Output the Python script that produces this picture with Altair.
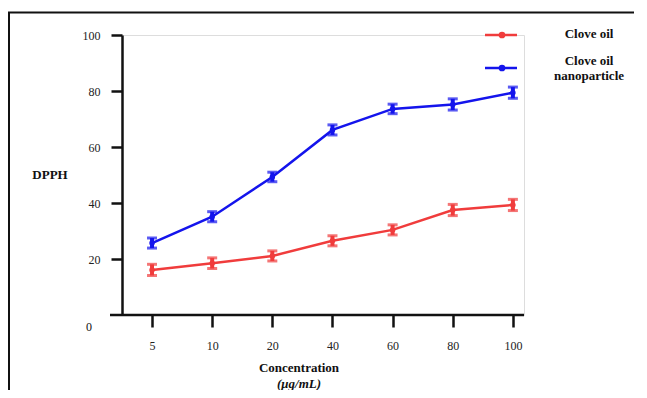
import altair as alt
import pandas as pd

# ---- data ----
concentrations = ["5", "10", "20", "40", "60", "80", "100"]
series_names = ["Clove oil", "Clove oil nanoparticle"]
clove_oil = [16.1, 18.5, 21.1, 26.5, 30.4, 37.5, 39.3]
clove_oil_err = [2.0, 1.9, 1.8, 1.8, 1.8, 2.0, 2.0]
nano = [25.7, 35.1, 49.3, 66.1, 73.6, 75.2, 79.4]
nano_err = [1.8, 1.8, 1.7, 1.8, 1.7, 2.0, 2.0]
y_ticks = [20, 40, 60, 80, 100]

RED = "#f03c3c"
BLUE = "#1414ec"
FONT = "Liberation Serif"

rows = []
for name, vals, errs in [(series_names[0], clove_oil, clove_oil_err),
                         (series_names[1], nano, nano_err)]:
    for c, v, e in zip(concentrations, vals, errs):
        rows.append({"conc": c, "series": name, "value": v,
                     "lo": v - e, "hi": v + e})
df = pd.DataFrame(rows)

W, H = 402, 280

x = alt.X("conc:O", sort=concentrations,
          scale=alt.Scale(type="point", padding=0.342, align=0.73),
          axis=alt.Axis(title=None, domain=False, ticks=True, tickSize=12,
                        tickWidth=2.5, tickColor="#111", labelAngle=0,
                        labelPadding=13, labelFont=FONT, labelFontSize=12,
                        labelColor="#222", grid=False))
yscale = alt.Scale(domain=[0, 100], nice=False, zero=True)
y = alt.Y("value:Q", scale=yscale,
          axis=alt.Axis(title=None, values=y_ticks, domain=True,
                        domainWidth=2.5, domainColor="#111", tickSize=11,
                        tickWidth=2.5, tickColor="#111", labelPadding=11,
                        labelFont=FONT, labelFontSize=12, labelColor="#222",
                        grid=False))
color = alt.Color("series:N", scale=alt.Scale(domain=series_names,
                                              range=[RED, BLUE]), legend=None)

base = alt.Chart(df)
lines = base.mark_line(strokeWidth=2.5).encode(x=x, y=y, color=color)
err = base.mark_rule(strokeWidth=4).encode(
    x=alt.X("conc:O", sort=concentrations), y=alt.Y("lo:Q", scale=yscale),
    y2="hi:Q", color=color)
cap_lo = base.mark_tick(thickness=3, size=10, orient="horizontal").encode(
    x=alt.X("conc:O", sort=concentrations), y=alt.Y("lo:Q", scale=yscale),
    color=color)
cap_hi = base.mark_tick(thickness=3, size=10, orient="horizontal").encode(
    x=alt.X("conc:O", sort=concentrations), y=alt.Y("hi:Q", scale=yscale),
    color=color)
pts = base.mark_point(filled=True, size=30, opacity=1, shape="circle").encode(
    x=alt.X("conc:O", sort=concentrations), y=alt.Y("value:Q", scale=yscale),
    color=color)

one = alt.Data(values=[{}])

def rule(x1, x2, y1, y2=None, col="#111", w=2.5):
    enc = dict(x=alt.value(x1), x2=alt.value(x2), y=alt.value(y1))
    if y2 is not None:
        enc["y2"] = alt.value(y2)
    return alt.Chart(one).mark_rule(strokeWidth=w, color=col, clip=False).encode(**enc)

def text(s, x0, y0, size=13, weight="bold", style="normal", align="center"):
    return alt.Chart(one).mark_text(font=FONT, fontSize=size, fontWeight=weight,
                                    fontStyle=style, align=align,
                                    baseline="middle", color="#111",
                                    clip=False).encode(
        x=alt.value(x0), y=alt.value(y0), text=alt.value(s))

def dot(x0, y0, col):
    return alt.Chart(one).mark_point(filled=True, size=45, opacity=1,
                                      color=col, clip=False).encode(
        x=alt.value(x0), y=alt.value(y0))

# x axis line (extends a bit left of the y axis)
x_axis_line = rule(-12, W, H)
# frame (left and top)
frame_left = rule(-113, -113, -22.5, 370, w=2)
frame_top = rule(-114, 520, -22.5, w=2)

annotations = [
    text("0", -33, 292, size=12, weight="normal"),
    text("DPPH", -72, 140),
    text("Concentration", 177, 333),
    text("(\u03bcg/mL)", 177, 349, style="italic"),
    # legend
    rule(363, 395, 0, col=RED, w=2.5), dot(380, 0, RED),
    rule(363, 395, 33, col=BLUE, w=2.5), dot(380, 33, BLUE),
    text("Clove oil", 467, -1),
    text("Clove oil", 467, 26),
    text("nanoparticle", 467, 41),
]

chart = alt.layer(lines, err, cap_lo, cap_hi, pts, x_axis_line, frame_left,
                  frame_top, *annotations).properties(
    width=W, height=H,
    autosize=alt.AutoSizeParams(type="none"),
    padding={"left": 114, "top": 27, "right": 110, "bottom": 75},
).configure_view(strokeWidth=0).configure(background="white").configure_axis(
    labelFont=FONT, labelFontSize=12, labelColor="#222"
)

chart.save("out.html", embed_options={"renderer": "svg", "actions": False})
